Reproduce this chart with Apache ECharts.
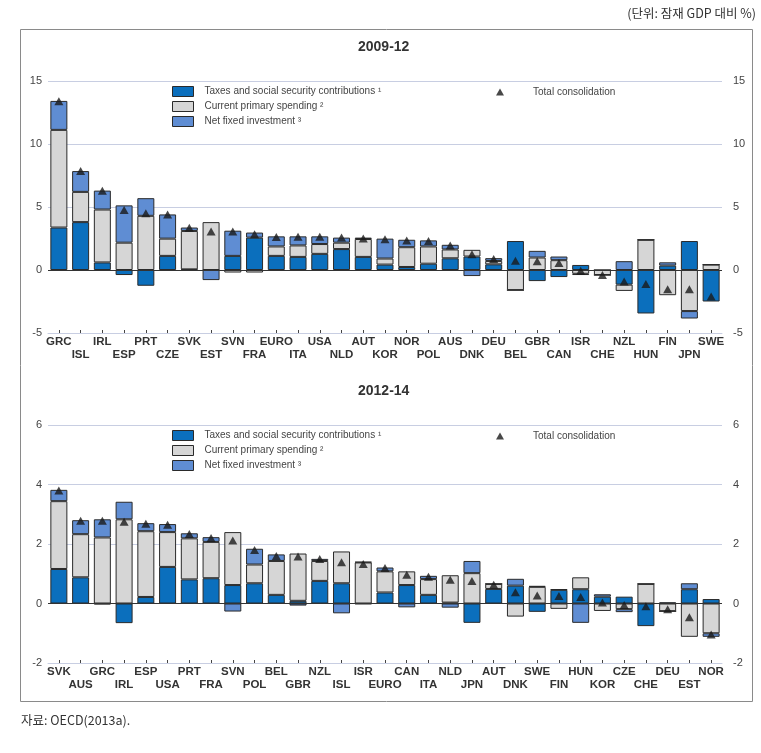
<!DOCTYPE html>
<html>
<head>
<meta charset="utf-8">
<script src="https://cdn.jsdelivr.net/npm/echarts@6/dist/echarts.min.js"></script>
<style>
html,body{margin:0;padding:0;background:#fff;}
#chart{width:761px;height:753px;}
</style>
</head>
<body>
<div id="chart"></div>
<script>
// ---- Panel 1: 2009-12 ----
var cats1 = ['GRC','ISL','IRL','ESP','PRT','CZE','SVK','EST','SVN','FRA','EURO','ITA','USA','NLD','AUT','KOR','NOR','POL','AUS','DNK','DEU','BEL','GBR','CAN','ISR','CHE','NZL','HUN','FIN','JPN','SWE'];
var tax1 = [3.37,3.8,0.6,-0.4,-1.25,1.12,0.05,0,1.12,2.57,1.12,1.04,1.28,1.66,1.04,0.43,0.24,0.5,0.93,1.07,0.45,2.3,-0.88,-0.56,0.4,0,-1.16,-3.45,0.35,2.3,-2.5];
var spend1 = [7.75,2.4,4.2,2.17,4.3,1.37,3.05,3.8,-0.2,-0.2,0.75,0.91,0.78,0.51,1.42,0.48,1.57,1.37,0.7,0.53,0.27,-1.6,0.99,0.78,-0.3,-0.4,-0.5,2.4,-2.0,-3.26,0.43];
var inv1 = [2.3,1.65,1.5,2.96,1.4,1.92,0.27,-0.8,2.0,0.4,0.8,0.72,0.61,0.4,0.11,1.58,0.59,0.48,0.37,-0.48,0.22,0,0.53,0.29,-0.1,0,0.7,0,0.26,-0.59,0];
var total1 = [13.4,7.85,6.28,4.76,4.5,4.41,3.35,3.05,3.05,2.83,2.62,2.63,2.63,2.57,2.5,2.45,2.35,2.3,1.95,1.25,0.87,0.73,0.7,0.55,-0.06,-0.4,-0.92,-1.12,-1.52,-1.52,-2.1];
var yTicks1 = {min:-5, max:15, interval:5};

// ---- Panel 2: 2012-14 ----
var cats2 = ['SVK','AUS','GRC','IRL','ESP','USA','PRT','FRA','SVN','POL','BEL','GBR','NZL','ISL','ISR','EURO','CAN','ITA','NLD','JPN','AUT','DNK','SWE','FIN','HUN','KOR','CZE','CHE','DEU','EST','NOR'];
var tax2 = [1.16,0.88,-0.03,-0.66,0.22,1.23,0.81,0.85,0.62,0.68,0.29,0.09,0.76,0.68,-0.02,0.37,0.62,0.29,0.03,-0.65,0.49,0.6,-0.28,0.46,0.48,0.23,0.23,-0.76,0.04,0.48,0.15];
var spend2 = [2.28,1.45,2.22,2.83,2.21,1.17,1.38,1.22,1.78,0.63,1.14,1.59,0.67,1.07,1.38,0.71,0.46,0.53,0.92,1.02,0.17,-0.44,0.56,-0.18,0.4,-0.25,-0.19,0.66,-0.26,-1.12,-1.0];
var inv2 = [0.38,0.47,0.61,0.59,0.27,0.27,0.17,0.16,-0.27,0.53,0.22,-0.07,0.07,-0.33,0.02,0.13,-0.13,0.11,-0.14,0.41,0,0.23,0.03,0.02,-0.65,0.08,-0.1,0,0,0.2,-0.12];
var total2 = [3.8,2.78,2.78,2.75,2.68,2.65,2.34,2.2,2.12,1.8,1.6,1.58,1.5,1.39,1.33,1.19,0.97,0.9,0.8,0.76,0.63,0.38,0.27,0.25,0.22,0.03,-0.05,-0.09,-0.19,-0.46,-1.04];
var yTicks2 = {min:-2, max:6, interval:2};

var names = ['Taxes and social security contributions \u00b9','Current primary spending \u00b2','Net fixed investment \u00b3'];
var totalName = 'Total consolidation';
var colors = ['#0b6fbd','#d6d6d6','#5f8dd3'];
var gridColor = '#c8cee2';
var font = 'Liberation Sans, Arial, Helvetica, sans-serif';

var chart = echarts.init(document.getElementById('chart'));

function xAxis(gi, cats){
  return {
    gridIndex: gi, type:'category', data: cats,
    axisLine:{show:true, onZero:false, lineStyle:{color:gridColor}},
    axisTick:{show:true, inside:true, length:3, alignWithLabel:true, lineStyle:{color:'#444'}},
    axisLabel:{interval:0, margin:2, lineHeight:13, fontSize:11.5, fontWeight:'bold', color:'#333', fontFamily:font,
      formatter:function(v, i){ return (i % 2) ? '\n' + v : v; }}
  };
}
function yAxis(gi, t, pos){
  return {
    gridIndex: gi, type:'value', min:t.min, max:t.max, interval:t.interval, position:pos,
    axisLine:{show:false}, axisTick:{show:false},
    splitLine:{show: pos === 'left', lineStyle:{color:gridColor, width:1}},
    axisLabel:{color:'#444', fontSize:11, fontFamily:font, margin: pos === 'left' ? 6 : 11}
  };
}
function barSeries(xi, yi, stack, data, k){
  var s = {
    name: names[k], type:'bar', xAxisIndex:xi, yAxisIndex:yi, stack:stack, data:data,
    barWidth: 17,
    itemStyle:{color:colors[k], borderColor:'#2a2a2a', borderWidth:1},
    emphasis:{disabled:true}, animation:false
  };
  if (k === 0) {
    s.markLine = {silent:true, symbol:['none','none'], label:{show:false},
      lineStyle:{color:'#333', width:1, type:'solid'}, data:[{yAxis:0}], animation:false};
  }
  return s;
}
function triSeries(xi, yi, data){
  return {name: totalName, type:'scatter', xAxisIndex:xi, yAxisIndex:yi, data:data,
    symbol:'triangle', symbolSize:[9,8], itemStyle:{color:'#1a1a1a'}, z:10, animation:false};
}
function legends(top){
  return [
    {data:names, icon:'rect', orient:'vertical', left:172, top:top, padding:0, itemWidth:21, itemHeight:10, itemGap:4,
      itemStyle:{borderWidth:1, borderColor:'#2a2a2a'},
      textStyle:{fontSize:10, color:'#444', fontFamily:font, padding:[0,0,0,6]}, selectedMode:false},
    {data:[{name:totalName, icon:'triangle'}], left:496, top:top+1, padding:0, itemWidth:8, itemHeight:7,
      textStyle:{fontSize:10, color:'#444', fontFamily:font, padding:[0,0,0,24]}, selectedMode:false}
  ];
}

var option = {
  animation:false,
  backgroundColor:'#fff',
  title:[
    {text:'2009-12', left:358, top:40, padding:0, textStyle:{fontSize:14, fontWeight:'bold', color:'#333', fontFamily:font}},
    {text:'2012-14', left:358, top:384, padding:0, textStyle:{fontSize:14, fontWeight:'bold', color:'#333', fontFamily:font}},
    {text:'(단위: 잠재 GDP 대비 %)', right:5, top:7, padding:0, textStyle:{fontSize:12.5, fontWeight:'normal', color:'#333', fontFamily:'Noto Sans CJK KR'}},
    {text:'자료: OECD(2013a).', left:21, top:714, padding:0, textStyle:{fontSize:12.5, fontWeight:'normal', color:'#333', fontFamily:'Noto Sans CJK KR'}}
  ],
  legend: legends(86).concat(legends(430)),
  grid:[
    {left:48, right:39, top:81, height:252},
    {left:48, right:39, top:425, height:238}
  ],
  xAxis:[xAxis(0, cats1), xAxis(1, cats2)],
  yAxis:[yAxis(0, yTicks1, 'left'), yAxis(0, yTicks1, 'right'), yAxis(1, yTicks2, 'left'), yAxis(1, yTicks2, 'right')],
  series:[
    barSeries(0,0,'a',tax1,0), barSeries(0,0,'a',spend1,1), barSeries(0,0,'a',inv1,2), triSeries(0,0,total1),
    barSeries(1,2,'b',tax2,0), barSeries(1,2,'b',spend2,1), barSeries(1,2,'b',inv2,2), triSeries(1,2,total2)
  ],
  graphic:[
    {type:'rect', silent:true, shape:{x:20.5, y:29.5, width:732, height:672}, style:{fill:null, stroke:'#8a8a8a', lineWidth:1}}
  ]
};
chart.setOption(option);
</script>
</body>
</html>
